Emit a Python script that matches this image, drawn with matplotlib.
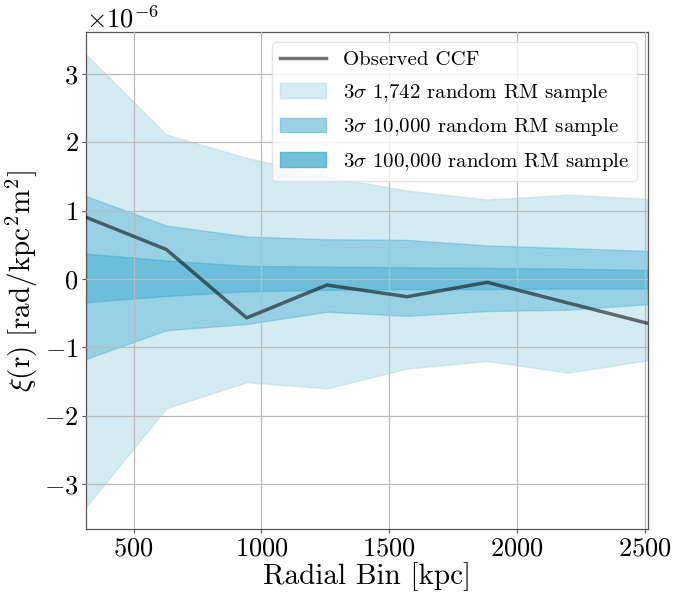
import numpy as np
import matplotlib
matplotlib.use("Agg")
import matplotlib.pyplot as plt
from matplotlib.patches import Patch
from matplotlib.lines import Line2D

plt.rcParams["font.family"] = "serif"
plt.rcParams["font.serif"] = ["cmr10"]
plt.rcParams["mathtext.fontset"] = "cm"
plt.rcParams["axes.formatter.use_mathtext"] = True
plt.rcParams["axes.unicode_minus"] = True

# radial bins (kpc)
radial_bins = [314, 628, 942, 1256, 1570, 1884, 2198, 2512]

# observed cross-correlation, units of 1e-6
ccf_obs = [0.90, 0.43, -0.57, -0.09, -0.26, -0.05, -0.35, -0.65]

# 3 sigma envelopes from the random RM samples, units of 1e-6
upper_1742 = [3.28, 2.11, 1.77, 1.50, 1.29, 1.16, 1.23, 1.17]
lower_1742 = [-3.33, -1.89, -1.51, -1.60, -1.31, -1.20, -1.37, -1.19]
upper_10k = [1.21, 0.78, 0.62, 0.58, 0.57, 0.49, 0.45, 0.41]
lower_10k = [-1.17, -0.75, -0.66, -0.48, -0.54, -0.47, -0.45, -0.37]
upper_100k = [0.37, 0.27, 0.19, 0.18, 0.17, 0.16, 0.15, 0.13]
lower_100k = [-0.34, -0.25, -0.18, -0.16, -0.15, -0.15, -0.14, -0.14]

labels = ["Observed CCF",
          r"3$\sigma$ 1,742 random RM sample",
          r"3$\sigma$ 10,000 random RM sample",
          r"3$\sigma$ 100,000 random RM sample"]

scale = 1e-6
r = np.array(radial_bins)

fig = plt.figure(figsize=(6.84, 5.92), dpi=100)
ax = fig.add_axes([0.126, 0.106, 0.821, 0.84])

ax.plot(r, np.array(ccf_obs) * scale, color="k", alpha=0.55, lw=2.5, zorder=5)
ax.fill_between(r, np.array(lower_1742) * scale, np.array(upper_1742) * scale,
                color="#add8e6", alpha=0.5)
ax.fill_between(r, np.array(lower_10k) * scale, np.array(upper_10k) * scale,
                color="#50b4d7", alpha=0.46)
ax.fill_between(r, np.array(lower_100k) * scale, np.array(upper_100k) * scale,
                color="#32a5cd", alpha=0.42)

ax.set_xlim(r[0], r[-1])
ax.grid(True, color="#bbbbbb", lw=0.9, zorder=3)
ax.set_axisbelow(False)

for s in ax.spines.values():
    s.set_color("#555555")
    s.set_linewidth(0.9)

ax.tick_params(labelsize=19, length=3, pad=2.5, color="#555555")
ax.yaxis.get_offset_text().set_fontsize(19)

ax.set_xlabel("Radial Bin [kpc]", fontsize=21, labelpad=1)
ax.set_ylabel(r"$\xi(\mathrm{r})\ [\mathrm{rad/kpc^2m^2}]$", fontsize=21, labelpad=3)

# legend swatches show the stacked band colours as they appear on the plot
handles = [Line2D([], [], color="k", alpha=0.55, lw=2.5),
           Patch(facecolor="#d6ecf3", edgecolor="#c4e4ee"),
           Patch(facecolor="#9ad2e5", edgecolor="#86c9e0"),
           Patch(facecolor="#70c0da", edgecolor="#5cb6d4")]
ax.legend(handles, labels, loc="upper right", fontsize=15, framealpha=0.8,
          edgecolor="#dddddd", handlelength=2.2, labelspacing=0.6)

fig.savefig("out.png", dpi=100)
